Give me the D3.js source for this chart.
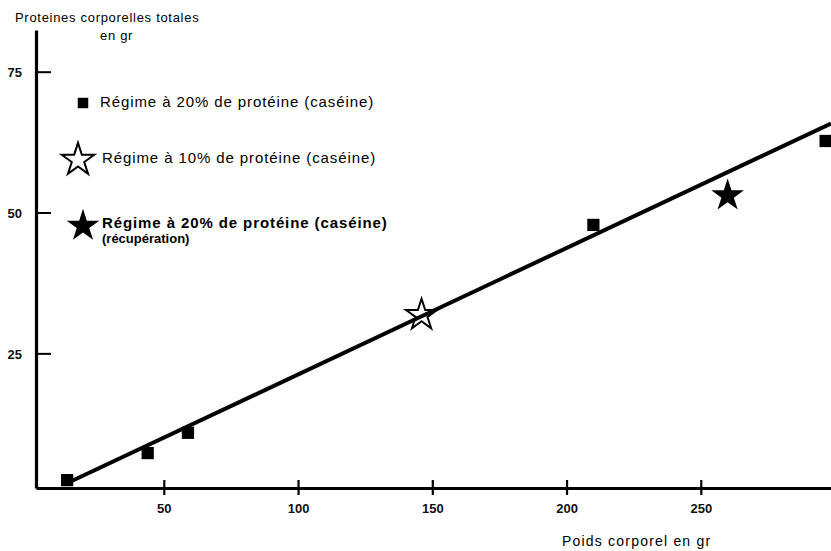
<!DOCTYPE html>
<html>
<head>
<meta charset="utf-8">
<script src="https://cdn.jsdelivr.net/npm/d3@7"></script>
<style>
  body { margin: 0; background: #fff; }
  svg { display: block; font-family: "Liberation Sans", Arial, sans-serif; }
</style>
</head>
<body>
<svg id="chart" width="831" height="551"></svg>
<script>
// body weight (g) vs total body protein (g)
var regime20 = [[14, 2.5], [44, 7.3], [59, 10.9], [210, 47.8], [296.5, 62.7]];
var regime10 = [[146, 31.8]];
var recuperation = [[260, 53]];
var fitLine = [[15.5, 2.3], [298.5, 65.8]];

var xTicks = [50, 100, 150, 200, 250];
var yTicks = [25, 50, 75];

var legendItems = [
  { label: "Régime à 20% de protéine (caséine)", mark: "square" },
  { label: "Régime à 10% de protéine (caséine)", mark: "openStar" },
  { label: "Régime à 20% de protéine (caséine)", sub: "(récupération)", mark: "star" }
];

var svg = d3.select("#chart");

// SCALES: domain edges sit on the axis lines
var x = d3.scaleLinear().domain([2.4, 298.5]).range([36, 831]);
var y = d3.scaleLinear().domain([1.1, 82.4]).range([488, 30]);

var square = d3.symbol().type(d3.symbolSquare).size(150);
var star = d3.symbol().type(d3.symbolStar).size(330);
var openStar = d3.symbol().type(d3.symbolStar).size(300);

// X AXIS
var gx = svg.append("g")
  .attr("transform", "translate(0," + y(1.1) + ")")
  .call(d3.axisBottom(x).tickValues(xTicks).tickSizeInner(7).tickSizeOuter(0).tickPadding(9));
gx.select(".domain").attr("stroke-width", 3.2);
gx.selectAll(".tick line").attr("y1", -8).attr("stroke-width", 2.2);
gx.selectAll(".tick text").attr("font-size", 13).attr("font-weight", "bold").attr("fill", "#111")
  .attr("font-family", "Liberation Sans, Arial, sans-serif");

// Y AXIS - ticks point inward
var gy = svg.append("g")
  .attr("transform", "translate(" + x(2.4) + ",0)")
  .call(d3.axisLeft(y).tickValues(yTicks).tickSizeInner(-15).tickSizeOuter(0).tickPadding(14));
gy.select(".domain").attr("stroke-width", 3.2);
gy.selectAll(".tick line").attr("stroke-width", 2);
gy.selectAll(".tick text").attr("font-size", 13).attr("font-weight", "bold").attr("fill", "#111")
  .attr("dy", "0.4em").attr("font-family", "Liberation Sans, Arial, sans-serif");

// AXIS TITLES
svg.append("text").attr("x", 15).attr("y", 22).attr("font-size", 13)
  .attr("letter-spacing", 0.7).text("Proteines corporelles totales");
svg.append("text").attr("x", 100).attr("y", 40).attr("font-size", 13)
  .attr("letter-spacing", 0.7).text("en gr");
svg.append("text").attr("x", 562).attr("y", 546).attr("font-size", 14)
  .attr("letter-spacing", 1.2).text("Poids corporel en gr");

// POINTS
svg.selectAll(".sq").data(regime20).enter().append("path")
  .attr("class", "sq")
  .attr("d", square)
  .attr("transform", function(d) { return "translate(" + x(d[0]) + "," + y(d[1]) + ")"; })
  .attr("fill", "#000");

svg.selectAll(".ostar").data(regime10).enter().append("path")
  .attr("class", "ostar")
  .attr("d", openStar)
  .attr("transform", function(d) { return "translate(" + x(d[0]) + "," + y(d[1]) + ")"; })
  .attr("fill", "#fff").attr("stroke", "#000").attr("stroke-width", 2);

svg.selectAll(".fstar").data(recuperation).enter().append("path")
  .attr("class", "fstar")
  .attr("d", star)
  .attr("transform", function(d) { return "translate(" + x(d[0]) + "," + y(d[1]) + ")"; })
  .attr("fill", "#000");

// FITTED LINE (on top, crosses the open star)
svg.append("path")
  .datum(fitLine)
  .attr("d", d3.line().x(function(d) { return x(d[0]); }).y(function(d) { return y(d[1]); }))
  .attr("fill", "none").attr("stroke", "#000").attr("stroke-width", 4);

// LEGEND
var legendPos = [[83, 103, 100, 107], [78, 160, 102, 163], [83, 226, 102, 228]];
var lg = svg.selectAll(".legend").data(legendItems).enter().append("g").attr("class", "legend");
lg.append("path")
  .attr("d", function(d) { return d.mark === "square" ? d3.symbol().type(d3.symbolSquare).size(110)() : star(); })
  .attr("transform", function(d, i) { return "translate(" + legendPos[i][0] + "," + legendPos[i][1] + ")"; })
  .attr("fill", function(d) { return d.mark === "openStar" ? "#fff" : "#000"; })
  .attr("stroke", function(d) { return d.mark === "openStar" ? "#000" : "none"; })
  .attr("stroke-width", 2);
lg.append("text")
  .attr("x", function(d, i) { return legendPos[i][2]; })
  .attr("y", function(d, i) { return legendPos[i][3]; })
  .attr("font-size", 15)
  .attr("letter-spacing", 0.9)
  .attr("font-weight", function(d) { return d.sub ? "bold" : "normal"; })
  .text(function(d) { return d.label; });
lg.filter(function(d) { return d.sub; }).append("text")
  .attr("x", 102).attr("y", 243)
  .attr("font-size", 13).attr("font-weight", "bold")
  .text(function(d) { return d.sub; });
</script>
</body>
</html>
